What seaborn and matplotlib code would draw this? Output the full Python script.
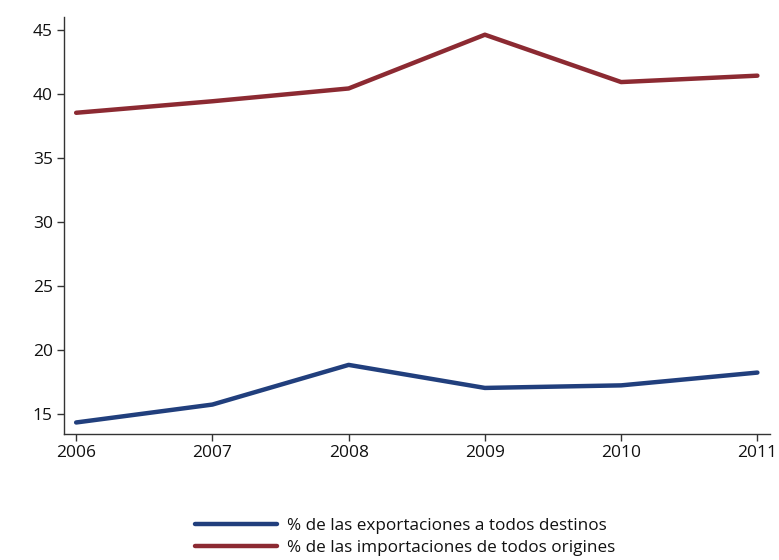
import pandas as pd
import numpy as np
import matplotlib.pyplot as plt
import seaborn as sns

# data
years = [2006, 2007, 2008, 2009, 2010, 2011]
exportaciones = [14.3, 15.7, 18.8, 17.0, 17.2, 18.2]
importaciones = [38.5, 39.4, 40.4, 44.6, 40.9, 41.4]
labels = ['% de las exportaciones a todos destinos',
          '% de las importaciones de todos origines']
colors = ['#213f7d', '#8c2a32']

df = pd.DataFrame({
    'year': years * 2,
    'value': exportaciones + importaciones,
    'serie': [labels[0]] * len(years) + [labels[1]] * len(years),
})

sns.set_style('white')
plt.rcParams['font.family'] = ['Open Sans', 'DejaVu Sans']

fig = plt.figure(figsize=(7.79, 5.6), dpi=100)
ax = fig.add_axes([0.082, 0.225, 0.906, 0.745])

sns.lineplot(data=df, x='year', y='value', hue='serie', palette=colors,
             linewidth=3.2, ax=ax, legend=False)

ax.set_xlim(2005.91, 2011.09)
ax.set_ylim(13.4, 46.0)
ax.set_xticks(years)
ax.set_yticks([15, 20, 25, 30, 35, 40, 45])
ax.set_xlabel('')
ax.set_ylabel('')
ax.tick_params(axis='both', labelsize=12.5, labelcolor='#111111', length=5,
               width=1, color='#333333', direction='out', bottom=True,
               left=True, pad=3)
for s in ['top', 'right']:
    ax.spines[s].set_visible(False)
for s in ['left', 'bottom']:
    ax.spines[s].set_color('#333333')
    ax.spines[s].set_linewidth(1)

# legend below the plot
handles = [plt.Line2D([], [], color=c, linewidth=3.2) for c in colors]
leg = fig.legend(handles, labels, loc='upper center', bbox_to_anchor=(0.52, 0.102),
                 frameon=False, fontsize=12.3, handlelength=4.8, handletextpad=0.6,
                 labelspacing=0.35)
for t in leg.get_texts():
    t.set_color('#111111')

plt.savefig('out.png', dpi=100)
